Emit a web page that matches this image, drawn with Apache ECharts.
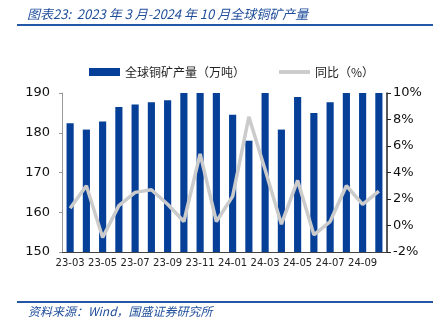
<!DOCTYPE html>
<html><head><meta charset="utf-8">
<script src="https://cdn.jsdelivr.net/npm/echarts@6/dist/echarts.min.js"></script>
<style>html,body{margin:0;padding:0;background:#fff}#c{width:443px;height:325px}</style>
</head><body><div id="c"></div>
<script>
const categories = ['23-03','23-04','23-05','23-06','23-07','23-08','23-09','23-10','23-11','23-12','24-01','24-02','24-03','24-04','24-05','24-06','24-07','24-08','24-09','24-10'];
const production = [182.4,180.8,182.8,186.5,187.1,187.7,188.2,191,191.5,191,184.5,178.0,190.5,180.8,189.0,185.0,187.7,191,191.5,191];
const yoy = [1.3,3.0,-0.9,1.5,2.5,2.7,1.6,0.3,5.4,0.3,2.2,8.2,4.2,0.1,3.4,-0.7,0.3,3.0,1.6,2.6];
const leftTicks = {min:150,max:190,interval:10};
const rightTicks = {min:-2,max:10,interval:2};
const titleText = '图表23:  2023 年 3 月-2024 年 10 月全球铜矿产量';
const sourceText = '资料来源：Wind，国盛证券研究所';
const seriesNames = ['全球铜矿产量（万吨）','同比（%）'];

const chart = echarts.init(document.getElementById('c'), null, {renderer:'canvas'});
const cjk = '"Noto Sans CJK SC", "DejaVu Sans", sans-serif';
const latin = 'Tahoma, "DejaVu Sans", "Liberation Sans", sans-serif';
chart.setOption({
  animation:false,
  backgroundColor:'#fff',
  title:{text:titleText,left:22,top:3,textStyle:{fontFamily:cjk,fontStyle:'italic',fontWeight:'normal',fontSize:13,color:'#1F4E9A'}},
  legend:{top:61,left:84,itemGap:34,itemWidth:31,itemHeight:8,
    textStyle:{fontFamily:cjk,fontSize:12,color:'#222'},
    data:[{name:seriesNames[0],icon:'rect'},{name:seriesNames[1],icon:'path://M0,0 L40,0 L40,5 L0,5 Z'}]},
  grid:{left:62,right:56,top:93,bottom:73},
  xAxis:{type:'category',data:categories,boundaryGap:true,
    axisLine:{onZero:false,lineStyle:{color:'#444',width:1}},
    axisTick:{interval:1,length:4,lineStyle:{color:'#444'}},
    axisLabel:{interval:1,fontSize:10,color:'#222',fontFamily:latin,margin:6}},
  yAxis:[
    {type:'value',min:leftTicks.min,max:leftTicks.max,interval:leftTicks.interval,
     splitLine:{show:false},
     axisLine:{show:true,lineStyle:{color:'#999'}},
     axisTick:{show:true,length:3,lineStyle:{color:'#999'}},
     axisLabel:{fontSize:13,color:'#111',fontFamily:latin,margin:12}},
    {type:'value',min:rightTicks.min,max:rightTicks.max,interval:rightTicks.interval,position:'right',
     splitLine:{show:false},
     axisLine:{show:true,lineStyle:{color:'#222',width:1.5}},
     axisTick:{show:true,length:4,lineStyle:{color:'#222'}},
     axisLabel:{fontSize:13,color:'#111',fontFamily:latin,margin:6,formatter:'{value}%'}}
  ],
  series:[
    {name:seriesNames[0],type:'bar',data:production,yAxisIndex:0,barWidth:'44%',clip:true,
     itemStyle:{color:'#053F98'}},
    {name:seriesNames[1],type:'line',data:yoy,yAxisIndex:1,symbol:'none',
     lineStyle:{color:'#CBCBCB',width:3.5},itemStyle:{color:'#CBCBCB'}}
  ],
  graphic:[
    {type:'rect',shape:{x:17,y:24,width:416,height:2},style:{fill:'#2457A7'}},
    {type:'rect',shape:{x:17,y:301,width:416,height:2},style:{fill:'#2457A7'}},
    {type:'text',left:28,top:305,style:{text:sourceText,font:'italic 12px '+cjk,fill:'#1F4E9A'}}
  ]
});
</script></body></html>
